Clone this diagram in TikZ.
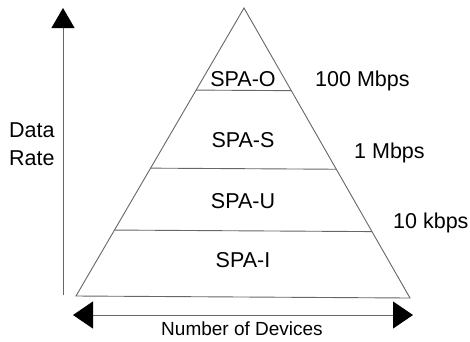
\documentclass[tikz,border=0pt]{standalone}
\usepackage{fontspec}
\setmainfont{Liberation Sans}
\usepackage{tikz}
\usetikzlibrary{arrows.meta,calc}

\begin{document}
\begin{tikzpicture}[x=1pt,y=-1pt,
    layer/.style={draw=gray!80!black,line width=0.9pt},
    axis/.style={draw=gray!80!black,line width=0.9pt},
    big/.style={font=\fontsize{21.5}{25}\selectfont,inner sep=0pt},
    small/.style={font=\fontsize{19}{22}\selectfont,inner sep=0pt}]
  \useasboundingbox (0,0) rectangle (470,341);
  \coordinate (top) at (244,8);
  \coordinate (bl) at (76,296);
  \coordinate (br) at (410,298);
  \draw[layer] (top) -- (bl) -- (br) -- cycle;
  \draw[layer] ($(top)!0.285!(bl)$) -- ($(top)!0.285!(br)$);
  \draw[layer] ($(top)!0.556!(bl)$) -- ($(top)!0.556!(br)$);
  \draw[layer] ($(top)!0.771!(bl)$) -- ($(top)!0.771!(br)$);
  \node[big] (o) at (243,79) {SPA-O};
  \node[big] (s) at (243,140) {SPA-S};
  \node[big] (u) at (243,201) {SPA-U};
  \node[big] (i) at (243,260) {SPA-I};
  \node[big,anchor=west] (r1) at (315,81) {100 Mbps};
  \node[big,anchor=west] (r2) at (354,153) {1 Mbps};
  \node[big,anchor=west] (r3) at (393,223) {10 kbps};
  \node[big,anchor=west,align=left,font=\fontsize{21.5}{28}\selectfont] (rate) at (9,144) {Data\\Rate};
  \node[small] (dev) at (242,329) {Number of Devices};
  \coordinate (y0) at (63,295);
  \coordinate (y1) at (63,8);
  \coordinate (x0) at (73,315);
  \coordinate (x1) at (413,315);
  \path[axis]
    (y0) edge[-{Triangle[length=20pt,width=23pt,color=black]}] (y1)
    (x0) edge[{Triangle[length=20pt,width=27pt,color=black]}-{Triangle[length=20pt,width=27pt,color=black]}] (x1);
\end{tikzpicture}
\end{document}
